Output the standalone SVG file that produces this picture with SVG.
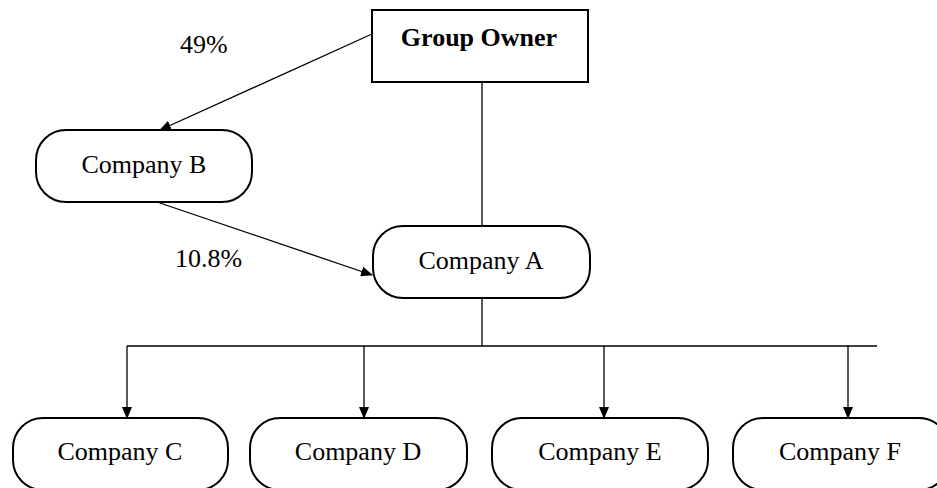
<svg xmlns="http://www.w3.org/2000/svg" width="937" height="488" viewBox="0 0 937 488">
<style>
.box{fill:#fff;stroke:#000;stroke-width:2}
.t{font-family:"Liberation Serif","Times New Roman",serif;font-size:26px;fill:#000;text-anchor:middle}
.b{font-weight:bold}
.lbl{font-family:"Liberation Serif","Times New Roman",serif;font-size:26px;fill:#000}
.c{fill:none;stroke:#000;stroke-width:1.3}
</style>
<defs>
<marker id="ah" markerWidth="12" markerHeight="10" refX="11" refY="5" orient="auto" markerUnits="userSpaceOnUse">
<path d="M0,0 L12,5 L0,10 Z" fill="#000"/>
</marker>
</defs>
<rect width="937" height="488" fill="#fff"/>
<g id="connectors">
<line class="c" x1="372" y1="34" x2="160" y2="130" marker-end="url(#ah)"/>
<line class="c" x1="157" y1="202" x2="372" y2="275" marker-end="url(#ah)"/>
<line class="c" x1="482" y1="82" x2="482" y2="226"/>
<line class="c" x1="482" y1="298" x2="482" y2="346"/>
<line class="c" x1="127" y1="346" x2="877" y2="346"/>
<line class="c" x1="127" y1="346" x2="127" y2="418" marker-end="url(#ah)"/>
<line class="c" x1="364" y1="346" x2="364" y2="418" marker-end="url(#ah)"/>
<line class="c" x1="604" y1="346" x2="604" y2="418" marker-end="url(#ah)"/>
<line class="c" x1="848" y1="346" x2="848" y2="418" marker-end="url(#ah)"/>
<text class="lbl" x="180" y="53">49%</text>
<text class="lbl" x="175" y="267">10.8%</text>
</g>
<g id="group-owner">
<rect class="box" x="372" y="10" width="216" height="72"/>
<text class="t b" x="479" y="46">Group Owner</text>
</g>
<g id="company-b">
<rect class="box" x="36" y="130" width="216" height="72" rx="30" ry="30"/>
<text class="t" x="144" y="173">Company B</text>
</g>
<g id="company-a">
<rect class="box" x="373" y="226" width="217" height="72" rx="30" ry="30"/>
<text class="t" x="481" y="269">Company A</text>
</g>
<g id="company-c">
<rect class="box" x="13" y="418" width="215" height="72" rx="30" ry="30"/>
<text class="t" x="120" y="460">Company C</text>
</g>
<g id="company-d">
<rect class="box" x="250" y="418" width="217" height="72" rx="30" ry="30"/>
<text class="t" x="358" y="460">Company D</text>
</g>
<g id="company-e">
<rect class="box" x="492" y="418" width="216" height="72" rx="30" ry="30"/>
<text class="t" x="600" y="460">Company E</text>
</g>
<g id="company-f">
<rect class="box" x="733" y="418" width="216" height="72" rx="30" ry="30"/>
<text class="t" x="840" y="460">Company F</text>
</g>
</svg>
